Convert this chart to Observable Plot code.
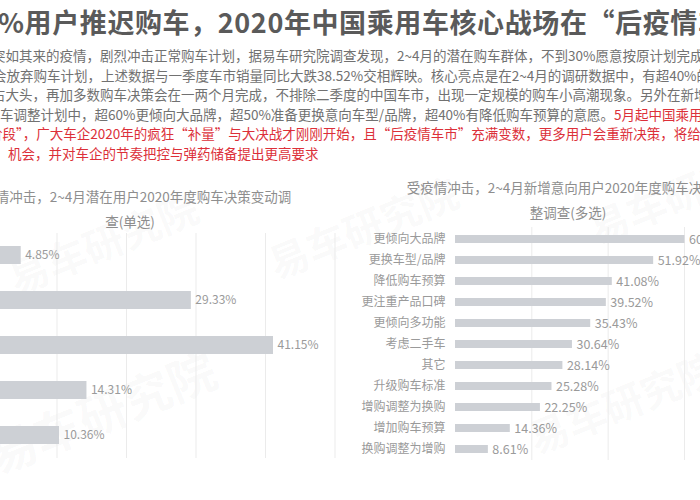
<!DOCTYPE html>
<html>
<head>
<meta charset="utf-8">
<script src="https://cdn.jsdelivr.net/npm/d3@7"></script>
<script src="https://cdn.jsdelivr.net/npm/@observablehq/plot@0.6"></script>
<style>
  html, body { margin: 0; padding: 0; background: #fff; }
  body { width: 700px; height: 500px; overflow: hidden; position: relative;
         font-family: "Noto Sans CJK SC", "Noto Sans", sans-serif; }
  .abs { position: absolute; white-space: nowrap; }
  #title { left: -2px; top: 2px; font-size: 27px; font-weight: bold; color: #5a5a5a; letter-spacing: 0.6px; }
  .para { font-size: 13.5px; color: #717171; line-height: 18px; }
  .red { color: #dc3039; }
  .sub { font-size: 13.5px; color: #8e8e8e; text-align: center; line-height: 25px; }
  .wm { position: absolute; white-space: nowrap; color: rgba(120,120,120,0.045); font-size: 40px;
        font-weight: bold; transform: rotate(-22deg); transform-origin: left center; }
  svg { position: absolute; }
</style>
</head>
<body>
<div id="title" class="abs">%用户推迟购车，2020年中国乘用车核心战场在“后疫情车市”</div>
<div id="para"></div>

<div class="abs sub" style="left:-40px; top:184px; width:340px;">受疫情冲击，2~4月潜在用户2020年度购车决策变动调<br>查(单选)</div>
<div class="abs sub" style="left:398px; top:175px; width:340px;">受疫情冲击，2~4月新增意向用户2020年度购车决策调<br>整调查(多选)</div>

<div class="wm" style="left:10px; top:250px;">易车研究院</div>
<div class="wm" style="left:-10px; top:420px; font-size:48px;">易车研究院</div>
<div class="wm" style="left:270px; top:235px;">易车研究院</div>
<div class="wm" style="left:530px; top:410px;">易车研究院</div>
<div class="wm" style="left:590px; top:200px;">易车研究院</div>

<div id="left"></div>
<div id="right"></div>

<script>
// ---- Text ----
const paraLines = [
  {x: -8, parts: [["突如其来的疫情，剧烈冲击正常购车计划，据易车研究院调查发现，2~4月的潜在购车群体，不到30%愿意按原计划完成", false]]},
  {x: -7, parts: [["会放弃购车计划，上述数据与一季度车市销量同比大跌38.52%交相辉映。核心亮点是在2~4月的调研数据中，有超40%的", false]]},
  {x: -8, parts: [["占大头，再加多数购车决策会在一两个月完成，不排除二季度的中国车市，出现一定规模的购车小高潮现象。另外在新增", false]]},
  {x: 0, parts: [["车调整计划中，超60%更倾向大品牌，超50%准备更换意向车型/品牌，超40%有降低购车预算的意愿。", false], ["5月起中国乘用车", true]]},
  {x: -11, parts: [["阶段”，广大车企2020年的疯狂“补量”与大决战才刚刚开始，且“后疫情车市”充满变数，更多用户会重新决策，将给", true]]},
  {x: 8, parts: [["机会，并对车企的节奏把控与弹药储备提出更高要求", true]]}
];

// ---- Data: left chart (单选) ----
const leftCategories = ["提前购车", "按原计划购车", "推迟购车", "暂缓购车", "放弃购车"];
const leftValues = [4.85, 29.33, 41.15, 14.31, 10.36];
const leftGridTicks = [10, 20, 30, 40, 50];

// ---- Data: right chart (多选) ----
const rightCategories = ["更倾向大品牌", "更换车型/品牌", "降低购车预算", "更注重产品口碑", "更倾向多功能",
  "考虑二手车", "其它", "升级购车标准", "增购调整为换购", "增加购车预算", "换购调整为增购"];
const rightValues = [60.12, 51.92, 41.08, 39.52, 35.43, 30.64, 28.14, 25.28, 22.25, 14.36, 8.61];
const rightGridTicks = [20, 40, 60];

// paragraph
const para = document.getElementById("para");
const top0 = 46;
paraLines.forEach((ln, i) => {
  const d = document.createElement("div");
  d.className = "abs para";
  d.style.left = ln.x + "px";
  d.style.top = (top0 + i * 19.6) + "px";
  ln.parts.forEach(([t, red]) => {
    const s = document.createElement("span");
    if (red) s.className = "red";
    s.textContent = t;
    d.appendChild(s);
  });
  para.appendChild(d);
});

const barColor = "#cdd0d5";
const labelColor = "#9a9a9a";
const gridColor = "#ebebeb";
const fontFamily = "'Noto Sans CJK SC', 'Noto Sans', sans-serif";

const leftData = leftCategories.map((c, i) => ({cat: c, v: leftValues[i]}));
const rightData = rightCategories.map((c, i) => ({cat: c, v: rightValues[i]}));

const left = Plot.plot({
  width: 488, height: 268,
  marginLeft: 100, marginRight: 40.5, marginTop: 33, marginBottom: 10,
  style: {fontFamily, background: "transparent"},
  x: {domain: [0, 50], axis: null},
  y: {domain: leftCategories, paddingInner: 0.6, paddingOuter: 0.3, label: null},
  marks: [
    Plot.gridX(leftGridTicks, {stroke: gridColor, strokeOpacity: 1}),
    Plot.barX(leftData, {x: "v", y: "cat", fill: barColor}),
    Plot.text(leftData, {x: "v", y: "cat", text: d => d.v.toFixed(2) + "%", textAnchor: "start", dx: 4, fill: labelColor, fontSize: 12}),
    Plot.axisY({tickSize: 0, tickPadding: 8, fill: labelColor, fontSize: 12, label: null})
  ]
});
left.style.left = "-113px";
left.style.top = "200px";
document.getElementById("left").appendChild(left);

const right = Plot.plot({
  width: 380, height: 270,
  marginLeft: 115, marginRight: 36, marginTop: 27, marginBottom: 10,
  style: {fontFamily, background: "transparent"},
  x: {domain: [0, 60], axis: null},
  y: {domain: rightCategories, paddingInner: 0.62, paddingOuter: 0.31, label: null},
  marks: [
    Plot.gridX(rightGridTicks, {stroke: gridColor, strokeOpacity: 1}),
    Plot.barX(rightData, {x: "v", y: "cat", fill: barColor}),
    Plot.text(rightData, {x: "v", y: "cat", text: d => d.v.toFixed(2) + "%", textAnchor: "start", dx: 4, fill: labelColor, fontSize: 12.5}),
    Plot.axisY({tickSize: 0, tickPadding: 10, fill: labelColor, fontSize: 12, label: null})
  ]
});
right.style.left = "340px";
right.style.top = "200px";
document.getElementById("right").appendChild(right);
</script>
</body>
</html>
